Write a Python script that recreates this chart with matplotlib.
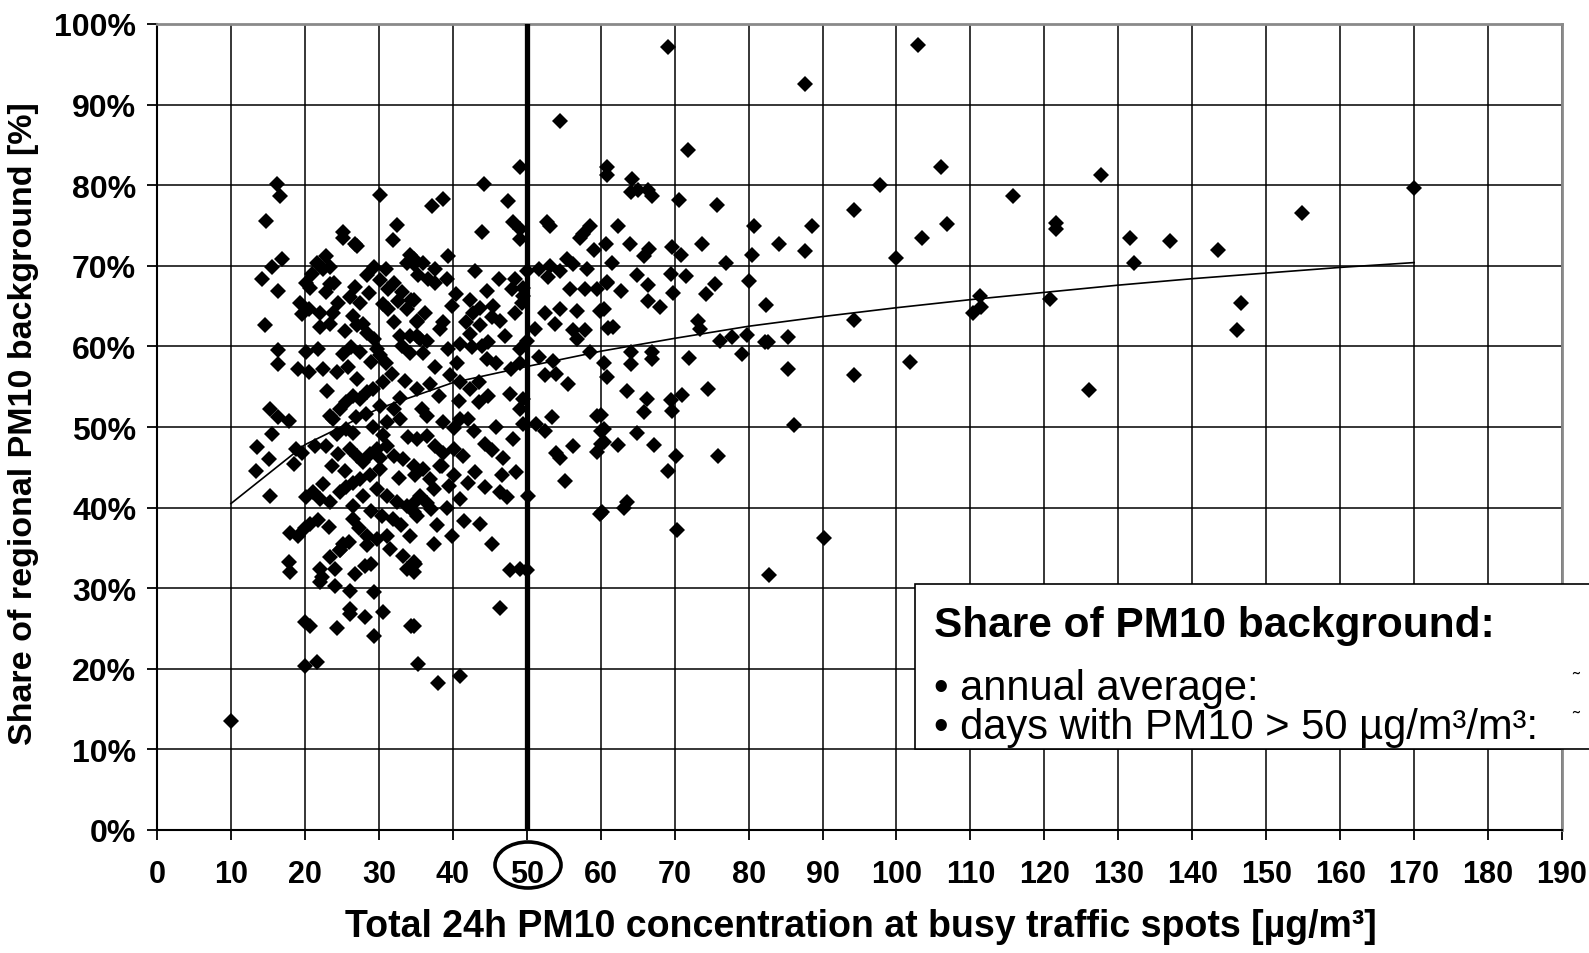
import matplotlib
matplotlib.use("Agg")
import matplotlib.pyplot as plt
from matplotlib.patches import Ellipse, Rectangle

# daily values: (total PM10 at traffic spot [ug/m3], share of regional background [%])
days_low = [
    (10.0, 13.5), (16.2, 80.1), (16.7, 78.6), (14.8, 75.6), (30.2, 78.8),
    (25.1, 74.2), (25.2, 73.5), (26.8, 72.7), (27.0, 72.5), (32.4, 75.1), (31.9, 73.2),
    (16.9, 70.9), (15.5, 69.9), (14.2, 68.4), (16.4, 66.9), (14.6, 62.7),
    (21.6, 70.4), (22.9, 71.2), (22.5, 69.6), (22.1, 70.0), (23.4, 69.8),
    (20.2, 67.9), (20.7, 67.3), (23.4, 67.7), (22.9, 66.7), (24.5, 65.4), (19.3, 65.4),
    (20.5, 64.6), (19.6, 64.0), (22.0, 64.2), (23.4, 62.8), (22.0, 62.4), (23.8, 64.2),
    (16.4, 59.5), (16.4, 57.8), (19.1, 57.2), (20.5, 56.8), (20.2, 59.3), (21.8, 59.7),
    (22.5, 57.2), (24.3, 56.8), (25.2, 59.1), (26.3, 59.9), (25.8, 57.4), (27.4, 59.3),
    (29.3, 69.8), (28.4, 68.8), (30.2, 68.2), (31.0, 69.6), (32.0, 67.9), (33.1, 66.7),
    (34.4, 65.7), (33.8, 64.6), (31.3, 67.1), (33.8, 70.4), (34.7, 70.8), (27.4, 65.4),
    (26.1, 66.1), (26.5, 63.8), (27.9, 62.8), (28.4, 61.7), (27.0, 62.6), (29.3, 60.9),
    (29.7, 59.7), (31.3, 64.6), (32.0, 63.0), (32.9, 61.3), (34.2, 59.2), (33.1, 60.1),
    (30.2, 58.9), (31.0, 58.0), (35.1, 63.0), (35.1, 61.3),
    (15.3, 52.2), (16.4, 51.2), (17.8, 50.8), (15.5, 49.1), (13.5, 47.5), (15.1, 46.0),
    (13.4, 44.6), (15.3, 41.5), (18.8, 47.3), (18.5, 45.4), (19.6, 46.8),
    (18.0, 36.9), (19.1, 36.5), (20.0, 37.5), (20.7, 38.0), (21.8, 38.4), (17.8, 33.2),
    (18.0, 32.0), (22.0, 32.4), (22.3, 31.4), (22.0, 30.8), (24.1, 32.4), (23.4, 33.9),
    (24.7, 34.7), (25.9, 35.7), (24.1, 30.3), (26.1, 29.7), (26.8, 31.8), (28.1, 32.8),
    (29.0, 33.0), (29.3, 29.5), (26.1, 27.4), (26.1, 26.8), (28.1, 26.4), (30.6, 27.0),
    (20.0, 25.8), (20.7, 25.3), (24.3, 25.1), (29.3, 24.1), (34.4, 25.3), (20.0, 20.3),
    (21.6, 20.8),
    (23.4, 51.4), (23.8, 51.0), (24.7, 52.2), (25.6, 53.1), (26.5, 53.9), (27.5, 53.5),
    (28.4, 54.3), (29.2, 54.7), (30.2, 52.6), (32.0, 52.2), (32.9, 51.0), (31.1, 50.6),
    (29.2, 50.0), (26.5, 49.3), (25.6, 49.8), (24.3, 49.1), (22.9, 47.7), (24.5, 46.6),
    (26.1, 47.3), (27.0, 46.4), (27.9, 45.6), (28.8, 46.6), (29.7, 47.3), (31.1, 47.7),
    (32.0, 46.4), (33.3, 46.0), (34.7, 45.2), (30.2, 44.8), (28.8, 44.0), (27.5, 43.5),
    (26.5, 43.1), (25.6, 42.5), (24.7, 41.9), (22.5, 42.9), (21.1, 41.9), (20.2, 41.3),
    (22.0, 41.1), (23.4, 40.7), (27.9, 41.5), (29.7, 42.3), (31.1, 41.5), (32.4, 40.7),
    (33.8, 40.2), (34.7, 39.4), (26.5, 40.2), (26.5, 38.6), (28.4, 36.5), (29.7, 36.1),
    (31.1, 36.5), (31.5, 34.9), (33.3, 34.0), (34.7, 33.2), (33.8, 32.4), (28.4, 35.3),
    (25.2, 35.5), (24.7, 34.7),
    (21.0, 69.0), (24.0, 67.9), (26.8, 67.4), (28.7, 66.6), (30.6, 65.2), (32.6, 65.6),
    (25.4, 61.9), (28.9, 58.1), (31.8, 56.6), (33.6, 55.7), (27.0, 56.0), (23.0, 54.5),
    (30.5, 55.6), (32.8, 53.6), (28.2, 51.6), (26.9, 51.3), (30.6, 49.0), (33.9, 48.8),
    (21.4, 47.6), (23.6, 45.2), (25.4, 44.6), (30.1, 46.1), (32.7, 43.7), (29.0, 39.6),
    (31.9, 38.6), (30.4, 38.9), (27.3, 37.5), (23.2, 37.6), (33.0, 37.9),
]

days_mid = [
    (49.1, 82.3), (44.2, 80.1), (37.2, 77.4), (38.7, 78.3), (47.5, 78.1), (44.0, 74.2),
    (48.2, 75.4), (49.1, 74.6), (49.1, 73.3), (52.7, 75.4), (53.1, 74.9), (58.6, 75.0),
    (57.6, 73.9), (57.2, 73.4), (59.1, 72.0), (54.5, 88.0),
    (34.2, 71.3), (34.7, 70.2), (36.0, 70.4), (39.4, 71.2), (35.3, 68.8), (36.7, 68.4),
    (37.6, 69.6), (37.6, 67.9), (39.2, 68.4), (43.0, 69.4), (46.2, 68.4), (44.6, 66.9),
    (48.4, 68.4), (48.0, 67.1), (49.5, 67.3), (50.0, 69.4), (51.6, 69.6), (53.1, 70.0),
    (52.9, 68.6), (54.5, 69.4), (55.4, 70.8), (56.3, 70.2), (58.1, 69.6), (55.8, 67.1),
    (57.9, 67.1), (59.5, 67.1), (60.8, 67.9),
    (34.7, 65.7), (36.2, 64.2), (35.1, 63.2), (38.7, 63.0), (38.3, 62.2), (39.9, 65.0),
    (42.3, 65.7), (43.7, 64.8), (42.8, 64.2), (45.5, 65.0), (45.3, 63.6), (46.4, 63.2),
    (43.7, 62.6), (48.4, 64.2), (49.5, 66.3), (49.3, 65.4), (52.5, 64.2), (54.5, 64.6),
    (53.8, 62.8), (51.1, 62.2), (56.3, 62.0), (57.9, 62.0), (59.9, 64.4), (61.0, 62.3),
    (34.2, 61.3), (35.6, 60.9), (36.5, 60.7), (36.0, 59.2), (37.6, 57.4), (39.4, 59.7),
    (41.0, 60.3), (42.3, 61.5), (42.6, 59.9), (43.9, 60.1), (44.8, 60.5), (44.6, 58.4),
    (45.9, 58.0), (49.1, 59.7), (49.1, 58.0), (50.0, 60.7), (56.8, 60.9), (58.6, 59.3),
    (60.4, 58.0),
    (52.5, 56.4), (54.0, 56.6), (55.6, 55.3), (59.5, 51.4), (60.1, 49.5), (59.5, 46.9),
    (60.1, 47.9), (53.4, 51.3), (52.5, 49.5), (54.0, 46.8), (54.5, 46.2), (56.2, 47.6),
    (55.2, 43.3), (59.9, 39.2),
    (50.2, 41.5), (51.3, 50.4), (49.5, 50.4), (49.1, 52.2), (47.7, 54.1), (49.5, 53.5),
    (48.2, 48.5), (48.6, 44.4), (46.6, 44.0), (44.4, 42.5), (47.3, 41.3), (46.4, 41.9),
    (43.5, 53.1), (44.8, 53.9), (42.1, 51.0), (45.9, 50.0), (44.4, 47.9), (45.3, 47.1),
    (43.0, 44.4), (41.4, 46.4), (40.1, 44.0), (38.5, 45.2), (41.0, 41.1), (39.6, 56.4),
    (41.0, 55.6), (42.3, 54.7), (43.5, 55.6),
    (43.7, 38.0), (39.9, 36.5), (37.4, 35.5), (45.3, 35.5), (47.7, 32.2), (49.1, 32.4),
    (50.0, 32.2), (46.4, 27.5), (34.7, 25.3), (35.3, 20.6), (38.0, 18.3), (41.0, 19.1),
    (35.1, 54.7), (36.9, 55.3), (35.8, 52.2), (36.5, 51.4), (38.7, 50.6), (40.1, 49.9),
    (41.0, 51.0), (35.1, 48.5), (36.5, 48.9), (37.6, 47.7), (38.7, 46.8), (40.1, 47.3),
    (38.3, 45.2), (36.0, 44.8), (34.9, 44.0), (36.9, 43.5), (37.4, 42.3), (35.6, 41.5),
    (34.7, 40.6), (36.5, 40.6), (37.1, 39.8), (35.1, 39.0), (34.2, 36.5), (34.9, 33.0),
    (34.7, 32.0),
    (40.5, 66.5), (41.8, 63.0), (40.6, 58.0), (38.2, 53.8), (40.8, 53.2), (42.9, 49.5),
    (39.5, 42.7), (42.0, 43.0), (39.2, 39.9), (37.8, 37.8), (41.5, 38.3), (46.8, 46.2),
    (47.9, 57.2), (51.7, 58.7), (53.6, 58.2), (56.8, 64.4), (47.0, 61.3),
]

days_high = [
    (69.1, 97.2), (87.6, 92.5), (102.9, 97.4), (71.8, 84.4), (60.8, 82.2), (60.8, 81.3),
    (64.3, 80.8), (64.1, 79.2), (65.0, 79.4), (66.4, 79.4), (66.9, 78.6), (70.6, 78.2),
    (75.7, 77.5), (106.0, 82.2), (97.8, 80.0), (94.3, 76.9), (115.7, 78.7), (62.3, 75.0),
    (80.7, 75.0), (88.6, 75.0), (106.8, 75.2), (103.5, 73.5), (60.7, 72.7), (63.9, 72.7),
    (66.6, 72.1), (65.9, 71.2), (69.7, 72.3), (70.9, 71.3), (73.7, 72.7), (84.1, 72.7),
    (87.6, 71.8), (80.4, 71.3), (76.9, 70.3), (99.9, 71.0), (61.5, 70.4), (60.9, 68.0),
    (64.9, 68.8), (62.8, 66.9), (66.4, 67.6), (69.5, 69.0), (71.5, 68.7), (69.8, 66.6),
    (66.4, 65.6), (68.0, 64.9), (60.4, 64.6), (75.4, 67.8), (74.2, 66.5), (80.0, 68.1),
    (82.3, 65.1), (61.7, 62.4), (73.2, 63.2), (73.4, 62.1), (94.3, 63.3), (111.3, 66.2),
    (111.4, 64.9), (110.3, 64.2), (120.7, 65.9), (76.1, 60.7), (77.8, 61.2), (79.8, 61.4),
    (82.2, 60.5), (82.6, 60.5), (85.3, 61.2), (64.1, 59.3), (66.9, 59.3), (72.0, 58.5),
    (79.1, 59.0), (101.8, 58.1), (64.1, 57.8), (66.9, 58.4), (85.3, 57.2), (94.3, 56.4),
    (60.9, 56.2), (63.5, 54.5), (66.3, 53.5), (65.8, 51.8), (69.5, 53.3), (69.6, 52.0),
    (71.0, 54.0), (74.5, 54.7), (60.0, 51.5), (60.4, 49.8), (60.4, 48.1), (64.9, 49.3),
    (62.3, 47.8), (67.2, 47.8), (70.2, 46.4), (69.1, 44.6), (75.8, 46.4), (86.2, 50.3),
    (63.5, 40.7), (63.1, 39.9), (60.2, 39.4), (70.3, 37.2), (90.2, 36.2), (82.7, 31.6),
    (121.6, 75.3), (121.6, 74.6), (126.0, 54.6), (127.6, 81.3), (131.6, 73.4),
    (132.1, 70.3), (137.0, 73.1), (143.5, 71.9), (146.6, 65.4), (146.0, 62.0),
    (154.8, 76.6), (170.0, 79.6),
]

# logarithmic trend line
trend_x = [10, 20, 30, 40, 50, 60, 70, 80, 90, 100, 110, 120, 130, 140, 150, 160, 170]
trend_y = [40.5, 47.8, 52.3, 55.5, 57.5, 59.4, 61.0, 62.5, 63.7, 64.8, 65.8, 66.7,
           67.6, 68.4, 69.1, 69.8, 70.4]

limit_value = 50
x_ticks = list(range(0, 191, 10))
y_ticks = list(range(0, 101, 10))

plt.rcParams['font.family'] = ['Liberation Sans', 'DejaVu Sans']

W, H = 1589, 954
fig = plt.figure(figsize=(W / 100, H / 100), dpi=100)
ax = fig.add_axes([157 / W, 1 - 831 / H, (1562 - 157) / W, (831 - 25) / H])

all_days = days_low + days_mid + days_high
xs = [d[0] for d in all_days]
ys = [d[1] for d in all_days]
ax.plot(xs, ys, ls='none', marker='D', ms=8.4, mew=0, color='black', zorder=3)
ax.plot(trend_x, trend_y, color='black', lw=1.2, zorder=4)
ax.axvline(limit_value, color='black', lw=3.8, zorder=5)

ax.set_xlim(0, 190)
ax.set_ylim(0, 100)
ax.set_xticks(x_ticks)
ax.set_yticks(y_ticks)
ax.set_xticklabels([str(v) for v in x_ticks], fontweight='bold')
ax.set_yticklabels([f"{v}%" for v in y_ticks], fontweight='bold')
ax.tick_params(axis='both', direction='out', length=7, width=1.3)
ax.tick_params(axis='x', pad=14, labelsize=22)
ax.tick_params(axis='y', pad=8, labelsize=23)
ax.grid(True, color='black', lw=1.1)
ax.set_axisbelow(True)
for side in ['left', 'bottom']:
    ax.spines[side].set_linewidth(1.5)
for side in ['top', 'right']:
    ax.spines[side].set_color('#8a8a8a')
    ax.spines[side].set_linewidth(2)

fig.text(861 / W, 1 - 927 / H, "Total 24h PM10 concentration at busy traffic spots [µg/m³]",
         ha='center', va='center', fontsize=27, fontweight='bold')
fig.text(24 / W, 1 - 424 / H, "Share of regional PM10 background [%]",
         ha='center', va='center', rotation=90, fontsize=24.5, fontweight='bold')

# circle around the 50 ug/m3 limit label
fig.add_artist(Ellipse((528 / W, 1 - 866 / H), 66 / W, 46 / H, transform=fig.transFigure,
                       fill=False, lw=2.6, color='black'))

# text box
fig.add_artist(Rectangle((915 / W, 1 - 750 / H), 0.5, 165 / H, transform=fig.transFigure,
                         facecolor='white', edgecolor='black', lw=1.2, zorder=10))
fig.text(934 / W, 1 - 626 / H, "Share of PM10 background:", fontsize=30.5, fontweight='bold',
         va='center', zorder=11)
fig.text(934 / W, 1 - 689 / H, "• annual average:", fontsize=30, va='center', zorder=11)
fig.text(934 / W, 1 - 728 / H, "• days with PM10 > 50 µg/m³/m³:", fontsize=30, va='center',
         zorder=11)
fig.text(1572 / W, 1 - 680 / H, "˜", fontsize=15, va='center', zorder=11)
fig.text(1572 / W, 1 - 719 / H, "˜", fontsize=15, va='center', zorder=11)

fig.savefig("out.png", dpi=100)
